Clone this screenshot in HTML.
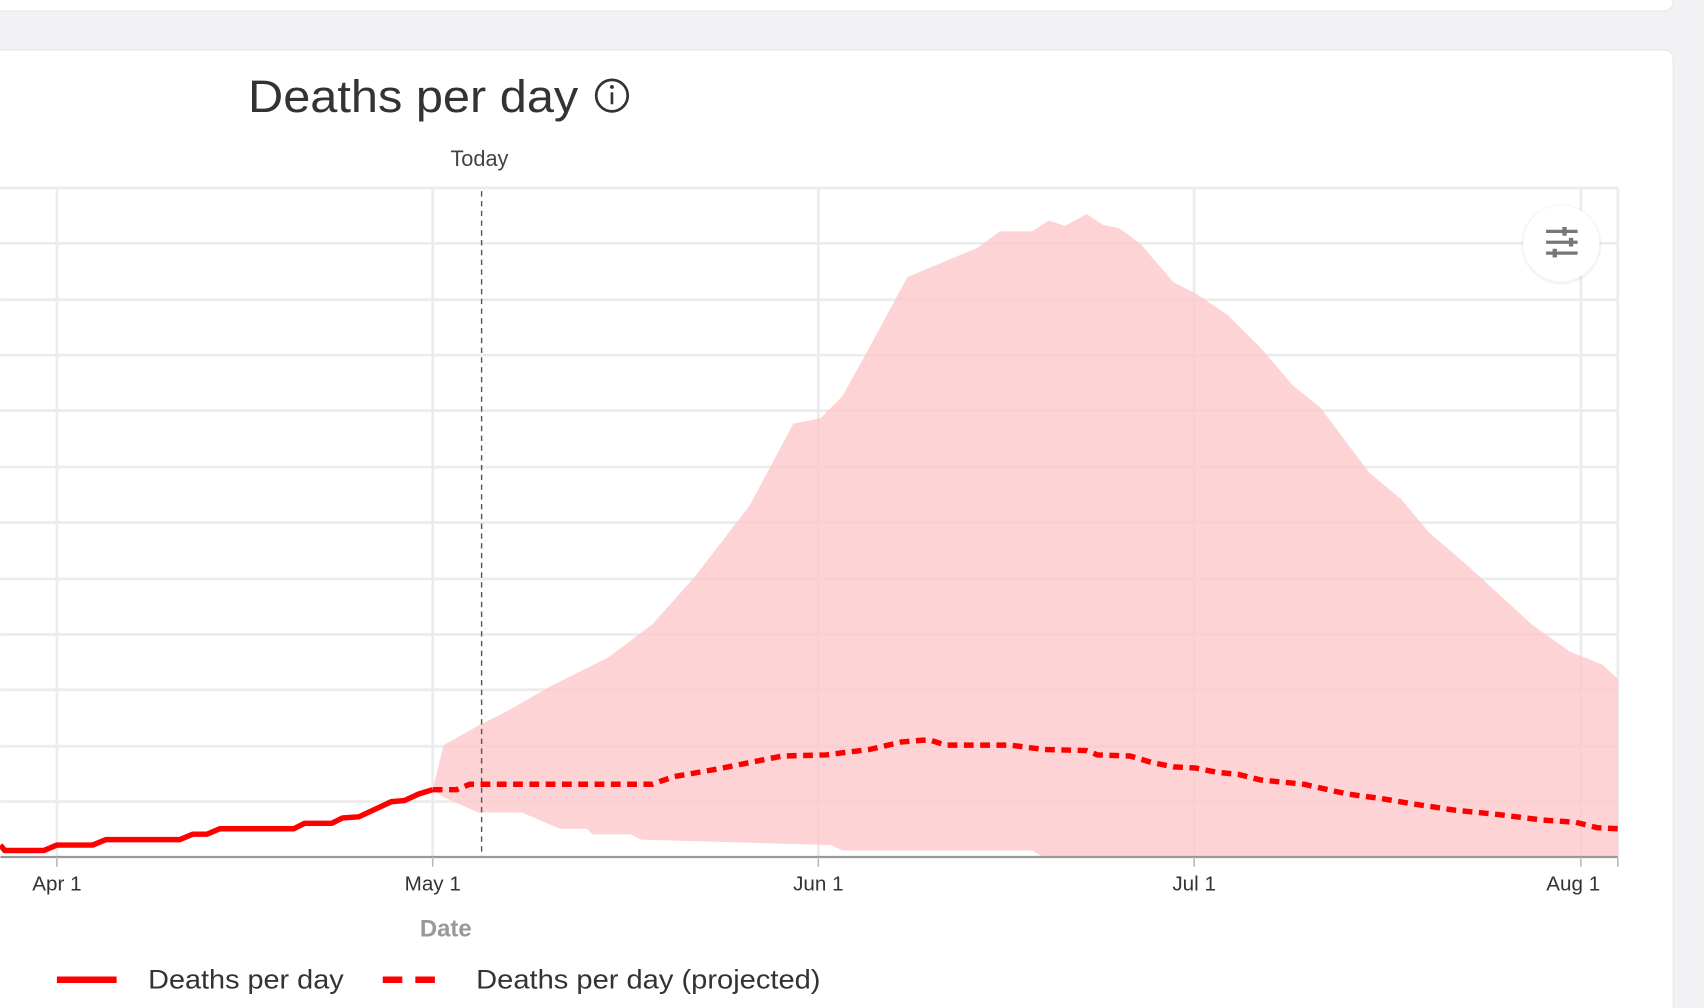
<!DOCTYPE html>
<html><head><meta charset="utf-8"><style>
html,body{margin:0;padding:0;background:#f2f2f4;width:1704px;height:1008px;overflow:hidden}
svg{display:block}
text{font-family:"Liberation Sans",sans-serif}
</style></head><body>
<svg width="1704" height="1008" viewBox="0 0 1568 928" xmlns="http://www.w3.org/2000/svg">
<rect x="0" y="0" width="1568" height="928" fill="#f2f2f4"/>
<rect x="-10" y="-20" width="1550" height="30" rx="8" fill="#fff" stroke="#e6e6e8"/>
<rect x="-10" y="46" width="1550" height="900" rx="8" fill="#fff" stroke="#e6e6e8"/>
<text x="228" y="103" font-size="42" fill="#333" textLength="304" lengthAdjust="spacingAndGlyphs">Deaths per day</text>
<circle cx="563" cy="88" r="14.5" fill="none" stroke="#333" stroke-width="2.5"/>
<circle cx="563" cy="80" r="1.8" fill="#333"/>
<rect x="561.8" y="85" width="2.4" height="11" fill="#333"/>
<text x="441" y="153" font-size="20" fill="#444" text-anchor="middle">Today</text>
<g stroke="#ececec" stroke-width="2.5">
<line x1="0" y1="173" x2="1489" y2="173"/>
<line x1="0" y1="224" x2="1489" y2="224"/>
<line x1="0" y1="276" x2="1489" y2="276"/>
<line x1="0" y1="327" x2="1489" y2="327"/>
<line x1="0" y1="378" x2="1489" y2="378"/>
<line x1="0" y1="430" x2="1489" y2="430"/>
<line x1="0" y1="481" x2="1489" y2="481"/>
<line x1="0" y1="533" x2="1489" y2="533"/>
<line x1="0" y1="584" x2="1489" y2="584"/>
<line x1="0" y1="635" x2="1489" y2="635"/>
<line x1="0" y1="687" x2="1489" y2="687"/>
<line x1="0" y1="738" x2="1489" y2="738"/>
<line x1="52" y1="173" x2="52" y2="789"/>
<line x1="398" y1="173" x2="398" y2="789"/>
<line x1="753" y1="173" x2="753" y2="789"/>
<line x1="1099" y1="173" x2="1099" y2="789"/>
<line x1="1455" y1="173" x2="1455" y2="789"/>
<line x1="1489" y1="173" x2="1489" y2="789"/>
</g>
<polygon fill="#fdc8cb" fill-opacity="0.8" points="398,727 408,686 440,668 466,655 510,630 560,605 600,575 640,530 690,465 730,390 755,385 775,365 800,320 835,255 900,228 920,213 950,213 965,203 980,208 1000,197 1015,207 1030,210 1050,225 1080,260 1100,270 1130,290 1160,320 1190,355 1215,375 1260,435 1290,460 1315,490 1350,520 1410,575 1445,600 1475,612 1489,625 1489,789 960,789 950,783 775,783 765,778 590,773 580,768 545,768 540,763 515,763 480,748 440,748 408,734"/>
<line x1="443" y1="176" x2="443" y2="789" stroke="#555" stroke-width="1.3" stroke-dasharray="5,4"/>
<polyline fill="none" stroke="#ff0000" stroke-width="5" stroke-linejoin="round" points="0,778 4,783 40,783 52,778 85,778 97,773 165,773 177,768 190,768 202,763 270,763 280,758 305,758 315,753 330,752 345,745 360,738 372,737 385,731 398,727"/>
<polyline fill="none" stroke="#ff0000" stroke-width="5" stroke-dasharray="9,6" points="398,727 420,727 432,722 600,722 620,715 660,708 700,700 720,696 760,695 800,690 830,683 855,681 870,686 930,686 960,690 1000,691 1010,695 1040,696 1060,702 1080,706 1100,707 1120,711 1140,713 1160,718 1200,722 1240,731 1270,735 1300,740 1340,746 1380,750 1420,755 1450,757 1470,762 1489,763"/>
<line x1="0" y1="789" x2="1489" y2="789" stroke="#999" stroke-width="2"/>
<g stroke="#bbb" stroke-width="1.5">
<line x1="52" y1="789" x2="52" y2="798"/><line x1="398" y1="789" x2="398" y2="798"/><line x1="753" y1="789" x2="753" y2="798"/><line x1="1099" y1="789" x2="1099" y2="798"/><line x1="1455" y1="789" x2="1455" y2="798"/><line x1="1489" y1="789" x2="1489" y2="798"/>
</g>
<g font-size="19" fill="#333" text-anchor="middle">
<text x="52" y="820">Apr 1</text><text x="398" y="820">May 1</text><text x="753" y="820">Jun 1</text><text x="1099" y="820">Jul 1</text><text x="1448" y="820">Aug 1</text>
</g>
<text x="410" y="862" font-size="22" font-weight="bold" fill="#999" text-anchor="middle">Date</text>
<line x1="52" y1="902" x2="107" y2="902" stroke="#ff0000" stroke-width="6"/>
<text x="136" y="910" font-size="25" fill="#333" textLength="180" lengthAdjust="spacingAndGlyphs">Deaths per day</text>
<line x1="352" y1="902" x2="408" y2="902" stroke="#ff0000" stroke-width="6" stroke-dasharray="18,12"/>
<text x="438" y="910" font-size="25" fill="#333" textLength="317" lengthAdjust="spacingAndGlyphs">Deaths per day (projected)</text>
<circle cx="1437" cy="225" r="37" fill="#000" opacity="0.04"/>
<circle cx="1437" cy="224" r="35" fill="#fff"/>
<g stroke="#777" stroke-width="3">
<line x1="1423" y1="213" x2="1452" y2="213"/><line x1="1423" y1="223" x2="1452" y2="223"/><line x1="1423" y1="233" x2="1452" y2="233"/>
</g>
<g fill="#777"><rect x="1438" y="209" width="4" height="8"/><rect x="1444" y="219" width="4" height="8"/><rect x="1429" y="229" width="4" height="8"/></g>
</svg>
</body></html>
